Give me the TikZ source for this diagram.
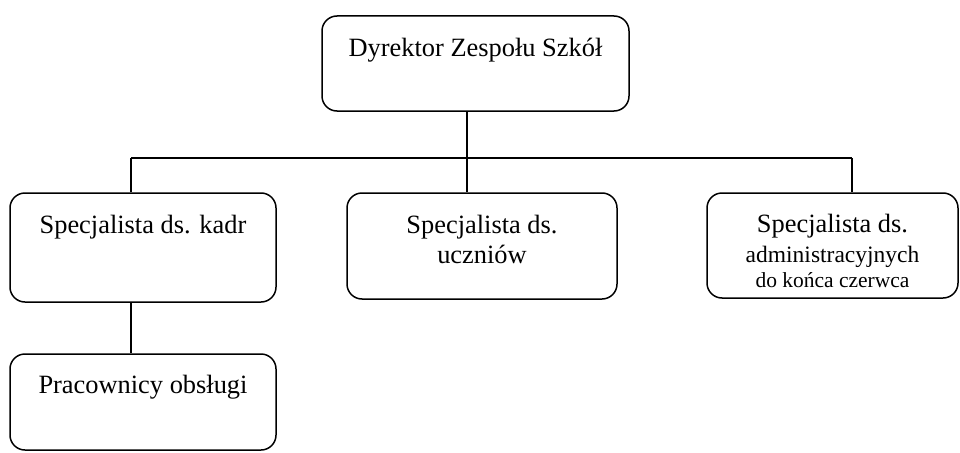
\documentclass[tikz,border=0pt]{standalone}
\usepackage{fontspec}
\setmainfont{Liberation Serif}
\usetikzlibrary{positioning}
\begin{document}
\begin{tikzpicture}[%
        x=1pt, y=-1pt,
        unit/.style={draw, line width=1.5pt, rounded corners=15pt, inner sep=0pt},
        link/.style={line width=1.5pt},
        caption/.style={anchor=north, inner sep=0pt, align=center,
                        font=\fontsize{26.4}{29.5}\selectfont}
    ]
    \useasboundingbox (0,0) rectangle (960,452);

    % boxes
    \node[unit, minimum width=307, minimum height=95]  (dyr)  at (475.5,63.5) {};
    \node[unit, minimum width=266, minimum height=109] (kadr) at (143,247.5) {};
    \node[unit, minimum width=270, minimum height=106] (ucz)  at (482,246) {};
    \node[unit, minimum width=251, minimum height=105] (adm)  at (832.5,245.5) {};
    \node[unit, minimum width=266, minimum height=96]  (obs)  at (143,402) {};

    % texts
    \node[caption, below=23pt of dyr.north]  (dyrtxt)  {Dyrektor Zespołu Szkół};
    \node[caption, below=23pt of kadr.north] (kadrtxt) {Specjalista ds. kadr};
    \node[caption, below=23pt of ucz.north]  (ucztxt)  {Specjalista ds.\\ uczniów};
    \node[caption, below=22pt of adm.north]  (admtxt)
        {Specjalista ds.\\
         {\fontsize{23.5}{24}\selectfont administracyjnych}\\[-4pt]
         {\fontsize{21.5}{24}\selectfont do końca czerwca}};
    \node[caption, below=22pt of obs.north]  (obstxt)  {Pracownicy obsługi};

    % connectors
    \coordinate (jL) at (131,158);
    \coordinate (jM) at (467,158);
    \coordinate (jR) at (852,158);
    \draw[link] (jL) -- (jR);
    \draw[link] (dyr.south -| jM) -- (jM) -- (ucz.north -| jM);
    \draw[link] (jL) -- (kadr.north -| jL);
    \draw[link] (jR) -- (adm.north -| jR);
    \draw[link] (kadr.south -| jL) -- (obs.north -| jL);
\end{tikzpicture}
\end{document}
